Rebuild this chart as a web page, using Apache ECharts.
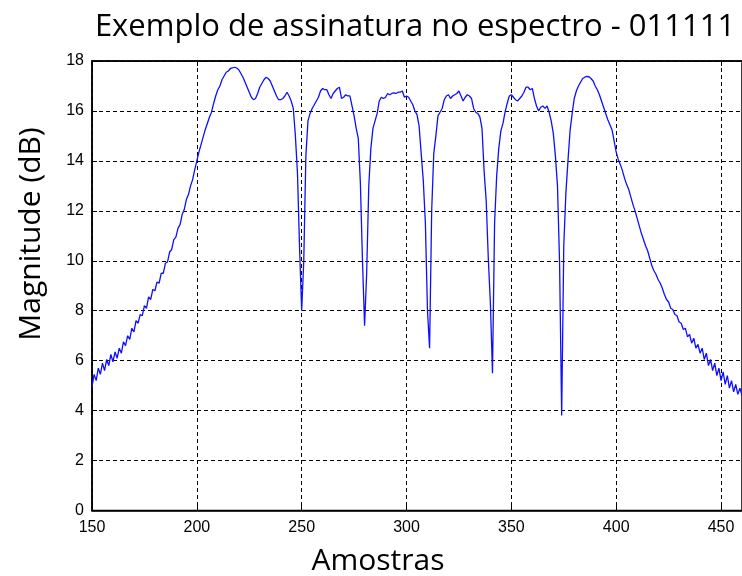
<!DOCTYPE html>
<html>
<head>
<meta charset="utf-8">
<script src="https://cdn.jsdelivr.net/npm/echarts@6/dist/echarts.min.js"></script>
<style>html,body{margin:0;padding:0;background:#fff;}#c{width:742px;height:576px;}</style>
</head>
<body>
<div id="c"></div>
<script>
var titleText = 'Exemplo de assinatura no espectro - 011111';
var xName = 'Amostras';
var yName = 'Magnitude (dB)';
var xStart = 150;
var magnitude = [
  4.95, 5.45, 5.2, 5.7, 5.45, 5.9, 5.6, 6.05, 5.8, 6.25,
  5.95, 6.35, 6.1, 6.5, 6.3, 6.75, 6.6, 7.0, 6.85, 7.3,
  7.15, 7.6, 7.5, 7.85, 7.8, 8.2, 8.1, 8.55, 8.45, 8.85,
  8.8, 9.15, 9.1, 9.5, 9.5, 9.9, 9.95, 10.35, 10.45, 10.85,
  10.95, 11.3, 11.45, 11.85, 12.05, 12.45, 12.65, 13.0, 13.25, 13.65,
  14.0, 14.35, 14.65, 14.95, 15.25, 15.5, 15.75, 15.95, 16.3, 16.6,
  16.85, 17.0, 17.25, 17.4, 17.55, 17.6, 17.7, 17.72, 17.75, 17.72,
  17.65, 17.5, 17.35, 17.15, 16.95, 16.75, 16.55, 16.45, 16.5, 16.7,
  16.95, 17.1, 17.25, 17.35, 17.3, 17.2, 17.0, 16.8, 16.6, 16.45,
  16.45, 16.5, 16.6, 16.75, 16.6, 16.4, 16.1, 15.0, 13.5, 10.5,
  8.0, 10.0, 14.2, 15.6, 15.9, 16.1, 16.25, 16.4, 16.55, 16.8,
  16.9, 16.85, 16.85, 16.65, 16.5, 16.7, 16.8, 16.9, 16.95, 16.5,
  16.55, 16.65, 16.6, 16.6, 16.2, 15.8, 15.3, 14.9, 13.1, 10.0,
  7.4, 9.5, 13.0, 14.5, 15.3, 15.6, 15.9, 16.4, 16.55, 16.5,
  16.55, 16.7, 16.65, 16.7, 16.72, 16.7, 16.75, 16.75, 16.8, 16.55,
  16.6, 16.55, 16.4, 16.25, 16.0, 15.85, 15.4, 14.3, 13.2, 11.5,
  8.0, 6.5, 12.0, 14.3, 15.0, 15.8, 15.95, 16.1, 16.45, 16.6,
  16.65, 16.5, 16.6, 16.65, 16.7, 16.8, 16.6, 16.4, 16.55, 16.65,
  16.6, 16.5, 16.1, 15.95, 15.9, 15.75, 15.3, 13.6, 12.4, 10.1,
  8.3, 5.5, 11.5, 13.4, 14.5, 15.2, 15.5, 15.95, 16.3, 16.6,
  16.65, 16.55, 16.45, 16.4, 16.5, 16.6, 16.75, 16.95, 16.95, 16.85,
  16.9, 16.5, 16.2, 16.0, 16.15, 16.2, 16.1, 16.2, 15.95, 15.6,
  15.1, 14.2, 13.0, 9.9, 3.8, 10.6, 12.7, 14.0, 15.2, 15.9,
  16.5, 16.8, 17.0, 17.15, 17.3, 17.35, 17.38, 17.37, 17.3, 17.2,
  17.0, 16.85, 16.65, 16.4, 16.15, 15.9, 15.65, 15.45, 15.25, 14.8,
  14.35, 14.05, 13.85, 13.6, 13.3, 13.05, 12.85, 12.55, 12.25, 12.0,
  11.7, 11.4, 11.1, 10.85, 10.6, 10.4, 10.1, 9.8, 9.6, 9.45,
  9.25, 9.1, 8.9, 8.65, 8.45, 8.35, 8.1, 8.05, 7.85, 7.8,
  7.55, 7.5, 7.25, 7.3, 6.95, 7.05, 6.7, 6.9, 6.5, 6.65,
  6.3, 6.5, 6.05, 6.3, 5.8, 6.05, 5.6, 5.9, 5.4, 5.7,
  5.2, 5.55, 5.05, 5.4, 4.9, 5.2, 4.75, 5.05, 4.65, 4.9,
  4.6
];
var xMin = 150, xMax = 460, xStep = 50;
var yMin = 0, yMax = 18, yStep = 2;

var pts = magnitude.map(function (v, i) { return [xStart + i, v]; });

var chart = echarts.init(document.getElementById('c'), null, {renderer: 'canvas'});
var tickFont = {fontFamily: 'Liberation Sans', fontSize: 16, color: '#000'};
var gridLine = {show: true, lineStyle: {color: '#000', width: 1, type: [4, 3]}};
var bigFont = '30px "Open Sans"';
chart.setOption({
  animation: false,
  backgroundColor: '#fff',
  grid: {left: 92, top: 61, width: 653, height: 449.5, show: true, borderColor: '#000', borderWidth: 1.5, backgroundColor: 'transparent'},
  graphic: [{
    type: 'text', x: 415, y: 27,
    style: {text: titleText, fill: '#000', font: '31px "Open Sans"', textAlign: 'center', textVerticalAlign: 'middle'}
  }, {
    type: 'text', x: 378, y: 561,
    style: {text: xName, fill: '#000', font: bigFont, textAlign: 'center', textVerticalAlign: 'middle'}
  }, {
    type: 'text', x: 31, y: 234, rotation: Math.PI / 2,
    style: {text: yName, fill: '#000', font: bigFont, textAlign: 'center', textVerticalAlign: 'middle'}
  }],
  xAxis: [{
    type: 'value', min: xMin, max: xMax, interval: xStep,
    axisLine: {show: true, lineStyle: {color: '#000', width: 1.5}},
    axisTick: {show: true, inside: true, length: 5, lineStyle: {color: '#000'}},
    axisLabel: Object.assign({margin: 9, showMaxLabel: false}, tickFont),
    splitLine: gridLine
  }, {
    type: 'value', position: 'top', min: xMin, max: xMax, interval: xStep,
    axisLine: {show: true, lineStyle: {color: '#000', width: 1.5}},
    axisTick: {show: true, inside: true, length: 5, lineStyle: {color: '#000'}},
    axisLabel: {show: false}, splitLine: {show: false}
  }],
  yAxis: [{
    type: 'value', min: yMin, max: yMax, interval: yStep,
    axisLine: {show: true, lineStyle: {color: '#000', width: 1.5}},
    axisTick: {show: true, inside: true, length: 5, lineStyle: {color: '#000'}},
    axisLabel: Object.assign({margin: 8}, tickFont),
    splitLine: gridLine
  }],
  series: [{
    type: 'line', data: pts, xAxisIndex: 0, yAxisIndex: 0,
    showSymbol: false, symbol: 'none', smooth: false,
    lineStyle: {color: '#0f0fff', width: 1.3}
  }]
});
</script>
</body>
</html>
